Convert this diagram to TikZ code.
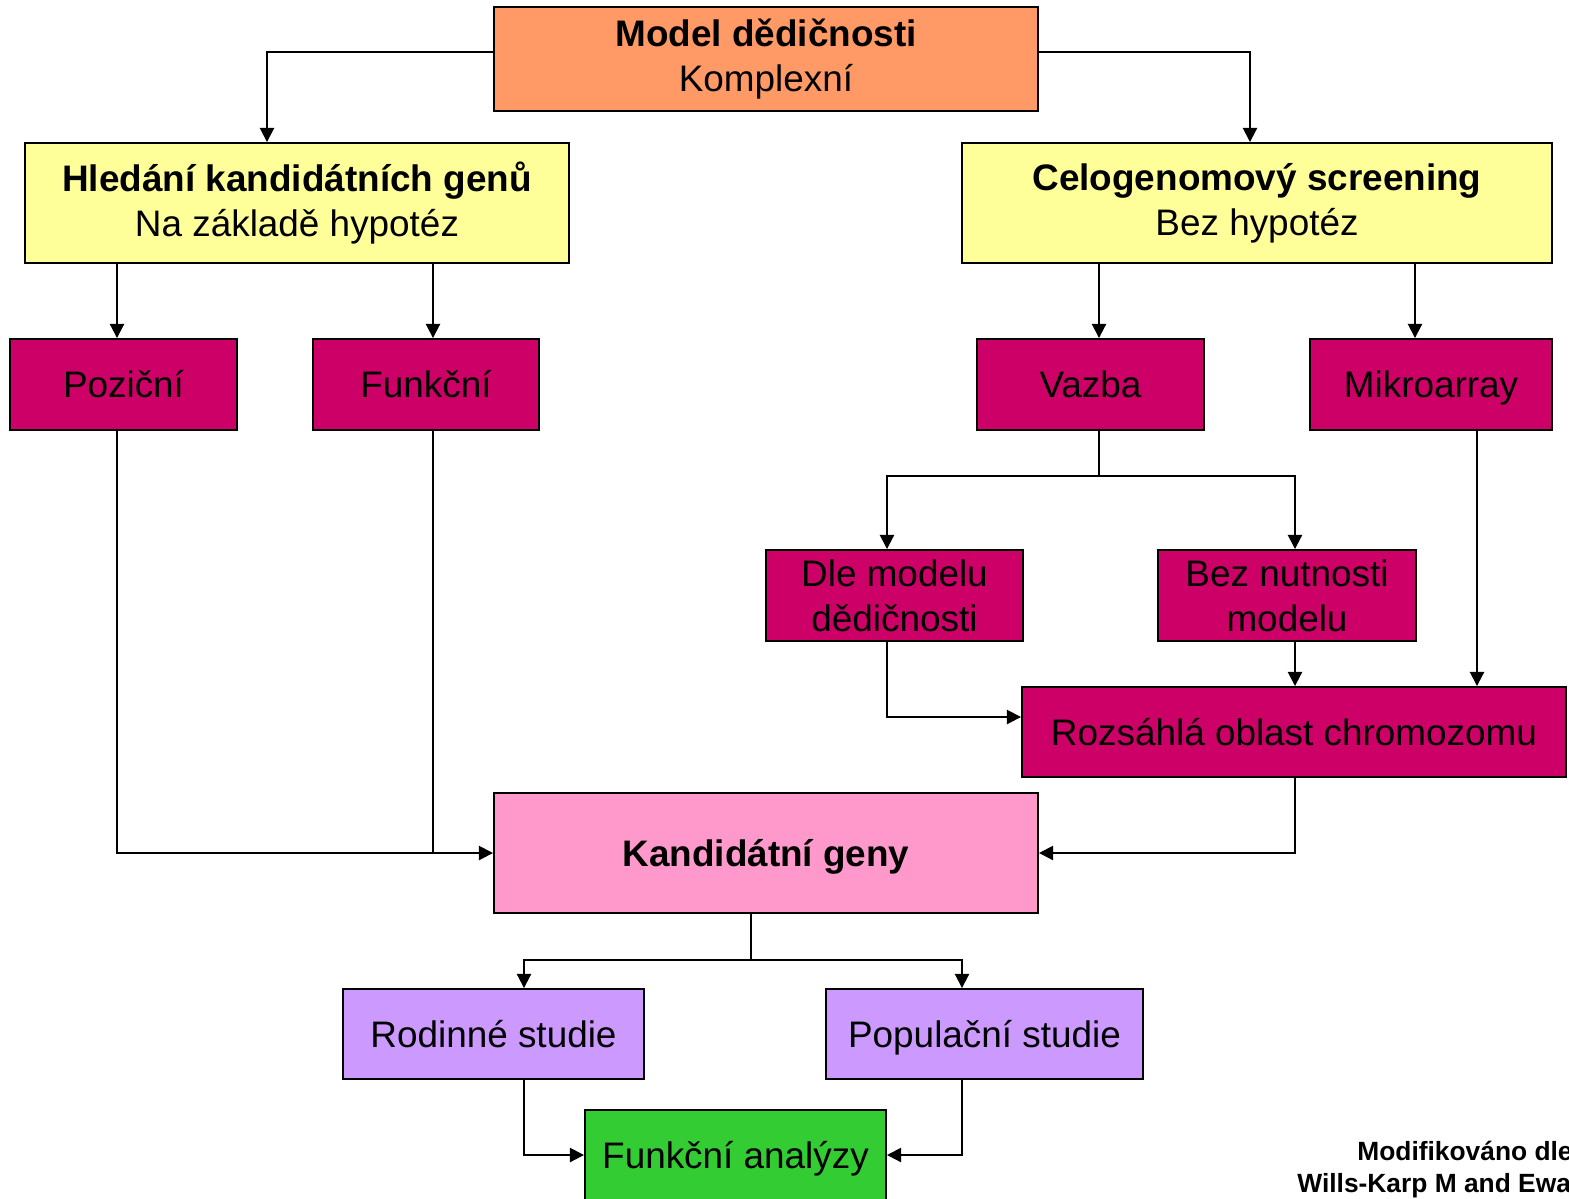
\documentclass[tikz,border=0pt]{standalone}
\usepackage{fontspec}
\setmainfont{Liberation Sans}
\usepackage{xcolor}
\usepackage{tikz}
\usetikzlibrary{shapes,arrows,positioning,calc,arrows.meta}

\definecolor{oranz}{HTML}{FF9966}
\definecolor{zluta}{HTML}{FFFF99}
\definecolor{purpur}{HTML}{CC0066}
\definecolor{ruzova}{HTML}{FF99CC}
\definecolor{fialova}{HTML}{CC99FF}
\definecolor{zelena}{HTML}{33CC33}

\tikzset{
    box/.style 2 args={draw=black, line width=1.1pt, rectangle, align=center,
        minimum width=#1*0.02cm, minimum height=#2*0.02cm, inner sep=0pt,
        font=\fontsize{21}{25.5}\selectfont},
    jedna/.style={text height=15.1pt, text depth=0pt},
    arr/.style={line width=1.1pt, -{Triangle[length=8pt,width=8pt]}},
    spoj/.style={line width=1.1pt}
}

\begin{document}
\begin{tikzpicture}[x=0.02cm, y=-0.02cm]
    \useasboundingbox (0,0) rectangle (1569,1198);
    \clip (0,0) rectangle (1569,1198);

    \node (model) at (766,59) [box={544}{104}, fill=oranz] {{\bfseries Model dědičnosti}\\Komplexní};
    \node (hledani) at (297,203) [box={544}{120}, fill=zluta] {{\bfseries Hledání kandidátních genů}\\Na základě hypotéz};
    \node (celo) at (1257,203) [box={590}{120}, fill=zluta] {{\bfseries Celogenomový screening}\\Bez hypotéz};
    \node (pozicni) at (123.5,384.5) [box={227}{91}, jedna, fill=purpur] {Poziční};
    \node (funkcni) at (426,384.5) [box={226}{91}, jedna, fill=purpur] {Funkční};
    \node (vazba) at (1090.5,384.5) [box={227}{91}, jedna, fill=purpur] {Vazba};
    \node (mikro) at (1431,384.5) [box={242}{91}, jedna, fill=purpur] {Mikroarray};
    \node (dle) at (894.5,595.5) [box={257}{91}, fill=purpur] {Dle modelu\\dědičnosti};
    \node (bez) at (1287,595.5) [box={258}{91}, fill=purpur] {Bez nutnosti\\modelu};
    \node (rozsah) at (1294,732) [box={544}{90}, jedna, fill=purpur] {Rozsáhlá oblast chromozomu};
    \node (kand) at (766,853) [box={544}{120}, jedna, fill=ruzova] {\bfseries Kandidátní geny};
    \node (rodin) at (493.5,1034) [box={301}{90}, jedna, fill=fialova] {Rodinné studie};
    \node (popul) at (984.5,1034) [box={317}{90}, jedna, fill=fialova] {Populační studie};
    \node (analyzy) at (735.5,1155) [box={301}{90}, jedna, fill=zelena] {Funkční analýzy};

    % citace vpravo dole
    \node (zdroj1) at (1357,1160) [anchor=base west, inner sep=0pt, font=\fontsize{15}{17}\bfseries] {Modifikováno dle};
    \node (zdroj2) at (1297,1192) [anchor=base west, inner sep=0pt, font=\fontsize{15}{17}\bfseries] {Wills-Karp M and Ewart};

    % body napojeni
    \coordinate (p1) at ($(pozicni.north)+(-6.5,0)$);
    \coordinate (p2) at ($(funkcni.north)+(7,0)$);
    \coordinate (p3) at ($(vazba.north)+(8.5,0)$);
    \coordinate (p4) at ($(mikro.north)+(-16,0)$);
    \coordinate (p5) at ($(dle.north)+(-7.5,0)$);
    \coordinate (p6) at ($(bez.north)+(8,0)$);
    \coordinate (p7) at ($(rozsah.north)+(183,0)$);
    \coordinate (p8) at ($(rozsah.north)+(1,0)$);
    \coordinate (p9) at ($(rodin.north)+(30.5,0)$);
    \coordinate (p10) at ($(popul.north)+(-22.5,0)$);

    \draw[arr] ($(model.west)+(0,-7)$) -| ($(hledani.north)+(-30,0)$);
    \draw[arr] ($(model.east)+(0,-7)$) -| ($(celo.north)+(-7,0)$);
    \draw[arr] (hledani.south -| p1) -- (p1);
    \draw[arr] (hledani.south -| p2) -- (p2);
    \draw[arr] (celo.south -| p3) -- (p3);
    \draw[arr] (celo.south -| p4) -- (p4);

    \draw[spoj] (vazba.south -| p3) -- ++(0,45) coordinate (vj);
    \draw[arr] (vj) -| (p5);
    \draw[arr] (vj) -| (p6);
    \draw[arr] (mikro.south -| p7) -- (p7);
    \draw[arr] (bez.south -| p8) -- (p8);
    \draw[arr] (dle.south -| p5) |- ($(rozsah.west)+(0,-15)$);

    \draw[arr] (rozsah.south -| p8) |- (kand.east);
    \draw[spoj] (funkcni.south -| p2) -- (p2 |- kand.west);
    \draw[arr] (pozicni.south -| p1) |- (kand.west);

    \draw[spoj] ($(kand.south)+(-15,0)$) -- ++(0,46) coordinate (kj);
    \draw[arr] (kj) -| (p9);
    \draw[arr] (kj) -| (p10);
    \draw[arr] (rodin.south -| p9) |- (analyzy.west);
    \draw[arr] (popul.south -| p10) |- (analyzy.east);
\end{tikzpicture}
\end{document}
